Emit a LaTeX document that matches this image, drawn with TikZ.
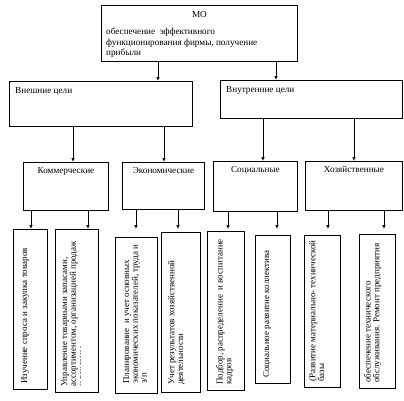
\documentclass[tikz,border=0pt]{standalone}
\usepackage{fontspec}
\setmainfont{Liberation Serif}
\usetikzlibrary{arrows.meta}
\tikzset{
  box/.style={draw=black, line width=0.9pt, anchor=north west, inner sep=0pt},
  arr/.style={draw=black, line width=0.8pt, -{Latex[length=4pt,width=3.5pt]}},
  txt/.style={inner sep=0pt, font=\fontsize{9.2}{10.5}\selectfont, align=left},
  vtext/.style={inner sep=0pt, font=\fontsize{9}{8.8}\selectfont, align=left, rotate=90, anchor=north west},
}
\begin{document}
\begin{tikzpicture}[x=1pt,y=-1pt]
\useasboundingbox[fill=white] (0,0) rectangle (404,400);
% top
\node[box, minimum width=196pt, minimum height=56pt] (mo) at (101,5) {};
\node[txt, anchor=north] (motitle) at ([yshift=-6pt]mo.north) {МО};
\node[txt, anchor=north west] (motext) at ([xshift=5pt,yshift=-23pt]mo.north west) {обеспечение\ \ эффективного\\функционирования фирмы, получение\\прибыли};
% level 1
\node[box, minimum width=183pt, minimum height=45pt] (ext) at (9,81) {};
\node[txt, anchor=north west] (extt) at ([xshift=6pt,yshift=-6pt]ext.north west) {Внешние цели};
\node[box, minimum width=182pt, minimum height=38pt] (intl) at (220,80) {};
\node[txt, anchor=north west] (intlt) at ([xshift=6pt,yshift=-6pt]intl.north west) {Внутренние цели};
% level 2
\node[box, minimum width=85pt, minimum height=48pt] (kom) at (23,162) {};
\node[box, minimum width=82pt, minimum height=47pt] (eco) at (122,162) {};
\node[box, minimum width=84pt, minimum height=50pt] (soc) at (213,161) {};
\node[box, minimum width=97pt, minimum height=49pt] (hoz) at (305,161) {};
\node[txt, anchor=north] (komt) at ([yshift=-5pt]kom.north) {Коммерческие};
\node[txt, anchor=north] (ecot) at ([yshift=-5pt]eco.north) {Экономические};
\node[txt, anchor=north] (soct) at ([yshift=-5pt]soc.north) {Социальные};
\node[txt, anchor=north] (hozt) at ([yshift=-5pt]hoz.north) {Хозяйственные};
% level 3
\node[box, minimum width=34pt, minimum height=160pt] (b1) at (13,229) {};
\node[box, minimum width=43pt, minimum height=163pt] (b2) at (55,229) {};
\node[box, minimum width=42pt, minimum height=156pt] (b3) at (115,237) {};
\node[box, minimum width=39pt, minimum height=160pt] (b4) at (161,232) {};
\node[box, minimum width=37pt, minimum height=159pt] (b5) at (207,231) {};
\node[box, minimum width=35pt, minimum height=148pt] (b6) at (255,235) {};
\node[box, minimum width=36pt, minimum height=152pt] (b7) at (304,235) {};
\node[box, minimum width=36pt, minimum height=154pt] (b8) at (359,234) {};
\node[vtext] (t1) at ([xshift=8pt,yshift=6pt]b1.south west) {Изучение спроса и закупка товаров};
\begin{scope}
\clip (55,229) rectangle (80.5,392);
\node[vtext] (t2) at ([xshift=6pt,yshift=6pt]b2.south west) {Управление товарными запасами,\\ассортиментом, организацией продаж\\и рекламы};
\end{scope}
\node[vtext] (t3) at ([xshift=8pt,yshift=10pt]b3.south west) {Планирование\ \ и учет основных\\экономических показателей, труда и\\з/п};
\node[vtext] (t4) at ([xshift=7pt,yshift=8pt]b4.south west) {Учет результатов хозяйственной\\деятельности};
\node[vtext] (t5) at ([xshift=9pt,yshift=6pt]b5.south west) {Подбор, распределение\ \ и воспитание\\кадров};
\node[vtext] (t6) at ([xshift=8pt,yshift=6pt]b6.south west) {Социальное развитие коллектива};
\node[vtext] (t7) at ([xshift=5pt,yshift=6pt]b7.south west) {(Развитие материально- технической\\базы};
\node[vtext] (t8) at ([xshift=5pt,yshift=6pt]b8.south west) {обеспечение технического\\обслуживания. Ремонт предприятия};
% arrows top -> level 1
\draw[arr] ([xshift=57pt]mo.south west) -- ([xshift=149pt]ext.north west);
\draw[arr] ([xshift=175pt]mo.south west) -- ([xshift=56pt]intl.north west);
% level 1 -> level 2
\draw[arr] ([xshift=64pt]ext.south west) -- ([xshift=50pt]kom.north west);
\draw[arr] ([xshift=155pt]ext.south west) -- ([xshift=42pt]eco.north west);
\draw[arr] ([xshift=43pt]intl.south west) -- ([xshift=50pt]soc.north west);
\draw[arr] ([xshift=134pt]intl.south west) -- ([xshift=49pt]hoz.north west);
% level 2 -> level 3
\draw[arr] ([xshift=8pt]kom.south west) -- ([xshift=18pt]b1.north west);
\draw[arr] ([xshift=65pt]kom.south west) -- ([xshift=33pt]b2.north west);
\draw[arr] ([xshift=14pt]eco.south west) -- ([xshift=21pt,yshift=8pt]b3.north west);
\draw[arr] ([xshift=56pt]eco.south west) -- ([xshift=17pt,yshift=3pt]b4.north west);
\draw[arr] ([xshift=15pt]soc.south west) -- ([xshift=21pt,yshift=2pt]b5.north west);
\draw[arr] ([xshift=64pt]soc.south west) -- ([xshift=22pt,yshift=6pt]b6.north west);
\draw[arr] ([xshift=23pt]hoz.south west) -- ([xshift=24pt,yshift=6pt]b7.north west);
\draw[arr] ([xshift=79pt]hoz.south west) -- ([xshift=25pt,yshift=5pt]b8.north west);
\end{tikzpicture}
\end{document}
